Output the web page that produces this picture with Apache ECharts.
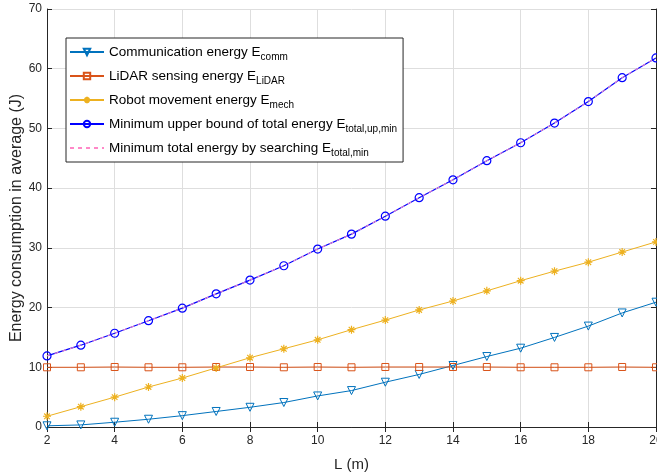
<!DOCTYPE html>
<html><head><meta charset="utf-8">
<script src="https://cdn.jsdelivr.net/npm/echarts@6/dist/echarts.min.js"></script>
<style>html,body{margin:0;padding:0;background:#fff}#c{width:657px;height:473px}</style>
</head><body><div id="c"></div>
<script>
const L = [2,3,4,5,6,7,8,9,10,11,12,13,14,15,16,17,18,19,20];
const eComm = [0.2,0.35,0.8,1.3,1.9,2.6,3.3,4.1,5.2,6.1,7.5,8.8,10.3,11.8,13.2,15.0,16.9,19.1,20.9];
const eLidar = [10.0,10.0,10.05,10.0,10.0,10.05,10.05,10.0,10.05,10.0,10.05,10.05,10.05,10.05,10.0,10.0,10.0,10.05,10.0];
const eMech = [1.8,3.4,5.0,6.7,8.2,9.9,11.6,13.1,14.6,16.3,17.9,19.6,21.1,22.8,24.5,26.1,27.6,29.3,31.0];
const eTotalUp = [11.9,13.7,15.7,17.8,19.9,22.3,24.6,27.0,29.8,32.3,35.3,38.4,41.4,44.6,47.6,50.9,54.5,58.5,61.8];
const eTotalMin = [11.9,13.7,15.7,17.8,19.9,22.3,24.6,27.0,29.8,32.3,35.3,38.4,41.4,44.6,47.6,50.9,54.5,58.5,61.8];
const xTicks = [2,4,6,8,10,12,14,16,18,20];
const yTicks = [0,10,20,30,40,50,60,70];

const legendLabels = {
  comm: 'Communication energy E{s|comm}',
  lidar: 'LiDAR sensing energy E{s|LiDAR}',
  mech: 'Robot movement energy E{s|mech}',
  up: 'Minimum upper bound of total energy E{s|total,up,min}',
  min: 'Minimum total energy by searching E{s|total,min}'
};
const font = 'Liberation Sans, Arial, sans-serif';
const axCol = '#262626';
const clear = 'rgba(255,255,255,0)';
const pair = arr => L.map((x,i)=>[x,arr[i]]);
const star = 'path://M0,-10L0,10M-10,0L10,0M-7,-7L7,7M-7,7L7,-7';

const chart = echarts.init(document.getElementById('c'), null, {renderer:'canvas'});
chart.setOption({
  animation:false,
  backgroundColor:'#fff',
  grid:{left:47,right:1,top:9,bottom:46,containLabel:false,outerBoundsMode:'none'},
  xAxis:[{
    type:'value',min:2,max:20,interval:2,
    name:'L (m)',nameLocation:'middle',nameGap:30,nameMoveOverlap:false,
    nameTextStyle:{fontFamily:font,fontSize:15,color:axCol},
    axisLine:{lineStyle:{color:axCol,width:1}},
    axisTick:{inside:true,length:5,lineStyle:{color:axCol}},
    axisLabel:{fontFamily:font,fontSize:12,color:axCol,margin:8},
    splitLine:{show:true,lineStyle:{color:'#dedede',width:1}}
  },{
    type:'value',min:2,max:20,interval:2,position:'top',
    axisLine:{show:true,lineStyle:{color:axCol,width:1}},
    axisTick:{show:true,inside:true,length:5,lineStyle:{color:axCol}},
    axisLabel:{show:false},splitLine:{show:false}
  }],
  yAxis:[{
    type:'value',min:0,max:70,interval:10,
    name:'Energy consumption in average (J)',nameLocation:'middle',nameGap:22,nameMoveOverlap:false,
    nameTextStyle:{fontFamily:font,fontSize:16,color:axCol},
    axisLine:{show:true,lineStyle:{color:axCol,width:1}},
    axisTick:{show:true,inside:true,length:5,lineStyle:{color:axCol}},
    axisLabel:{fontFamily:font,fontSize:12,color:axCol,margin:5},
    splitLine:{show:true,lineStyle:{color:'#dedede',width:1}}
  },{
    type:'value',min:0,max:70,interval:10,position:'right',
    axisLine:{show:true,lineStyle:{color:axCol,width:1}},
    axisTick:{show:true,inside:true,length:5,lineStyle:{color:axCol}},
    axisLabel:{show:false},splitLine:{show:false}
  }],
  legend:{
    orient:'vertical',left:66,top:38,
    backgroundColor:'#fff',borderColor:axCol,borderWidth:1,borderRadius:0,
    padding:[4,6,4,3],itemGap:4,itemWidth:34,itemHeight:8,
    formatter:n=>legendLabels[n],
    textStyle:{fontFamily:font,fontSize:13.5,color:'#000',lineHeight:20,
      rich:{s:{fontFamily:font,fontSize:10,color:'#000',verticalAlign:'bottom',lineHeight:10}}},
    data:['comm','lidar','mech','up',{name:'min',itemStyle:{color:clear,borderColor:clear,borderWidth:0}}]
  },
  series:[
    {name:'comm',type:'line',data:pair(eComm),symbol:'triangle',symbolRotate:180,symbolSize:8,
      lineStyle:{color:'#0072BD',width:1},itemStyle:{color:clear,borderColor:'#0072BD',borderWidth:1}},
    {name:'lidar',type:'line',data:pair(eLidar),symbol:'rect',symbolSize:7,
      lineStyle:{color:'#D95319',width:1},itemStyle:{color:clear,borderColor:'#D95319',borderWidth:1}},
    {name:'mech',type:'line',data:pair(eMech),symbol:star,symbolSize:8,
      lineStyle:{color:'#EDB120',width:1},itemStyle:{color:'#EDB120',borderColor:'#EDB120',borderWidth:1.2}},
    {name:'up',type:'line',data:pair(eTotalUp),symbol:'circle',symbolSize:8,
      lineStyle:{color:'#0000FF',width:1.2},itemStyle:{color:clear,borderColor:'#0000FF',borderWidth:1.2}},
    {name:'min',type:'line',data:pair(eTotalMin),symbol:'none',
      lineStyle:{color:'#ff88c8',width:1,type:[4,4]},itemStyle:{color:'#ff88c8'}}
  ]
});
</script></body></html>
